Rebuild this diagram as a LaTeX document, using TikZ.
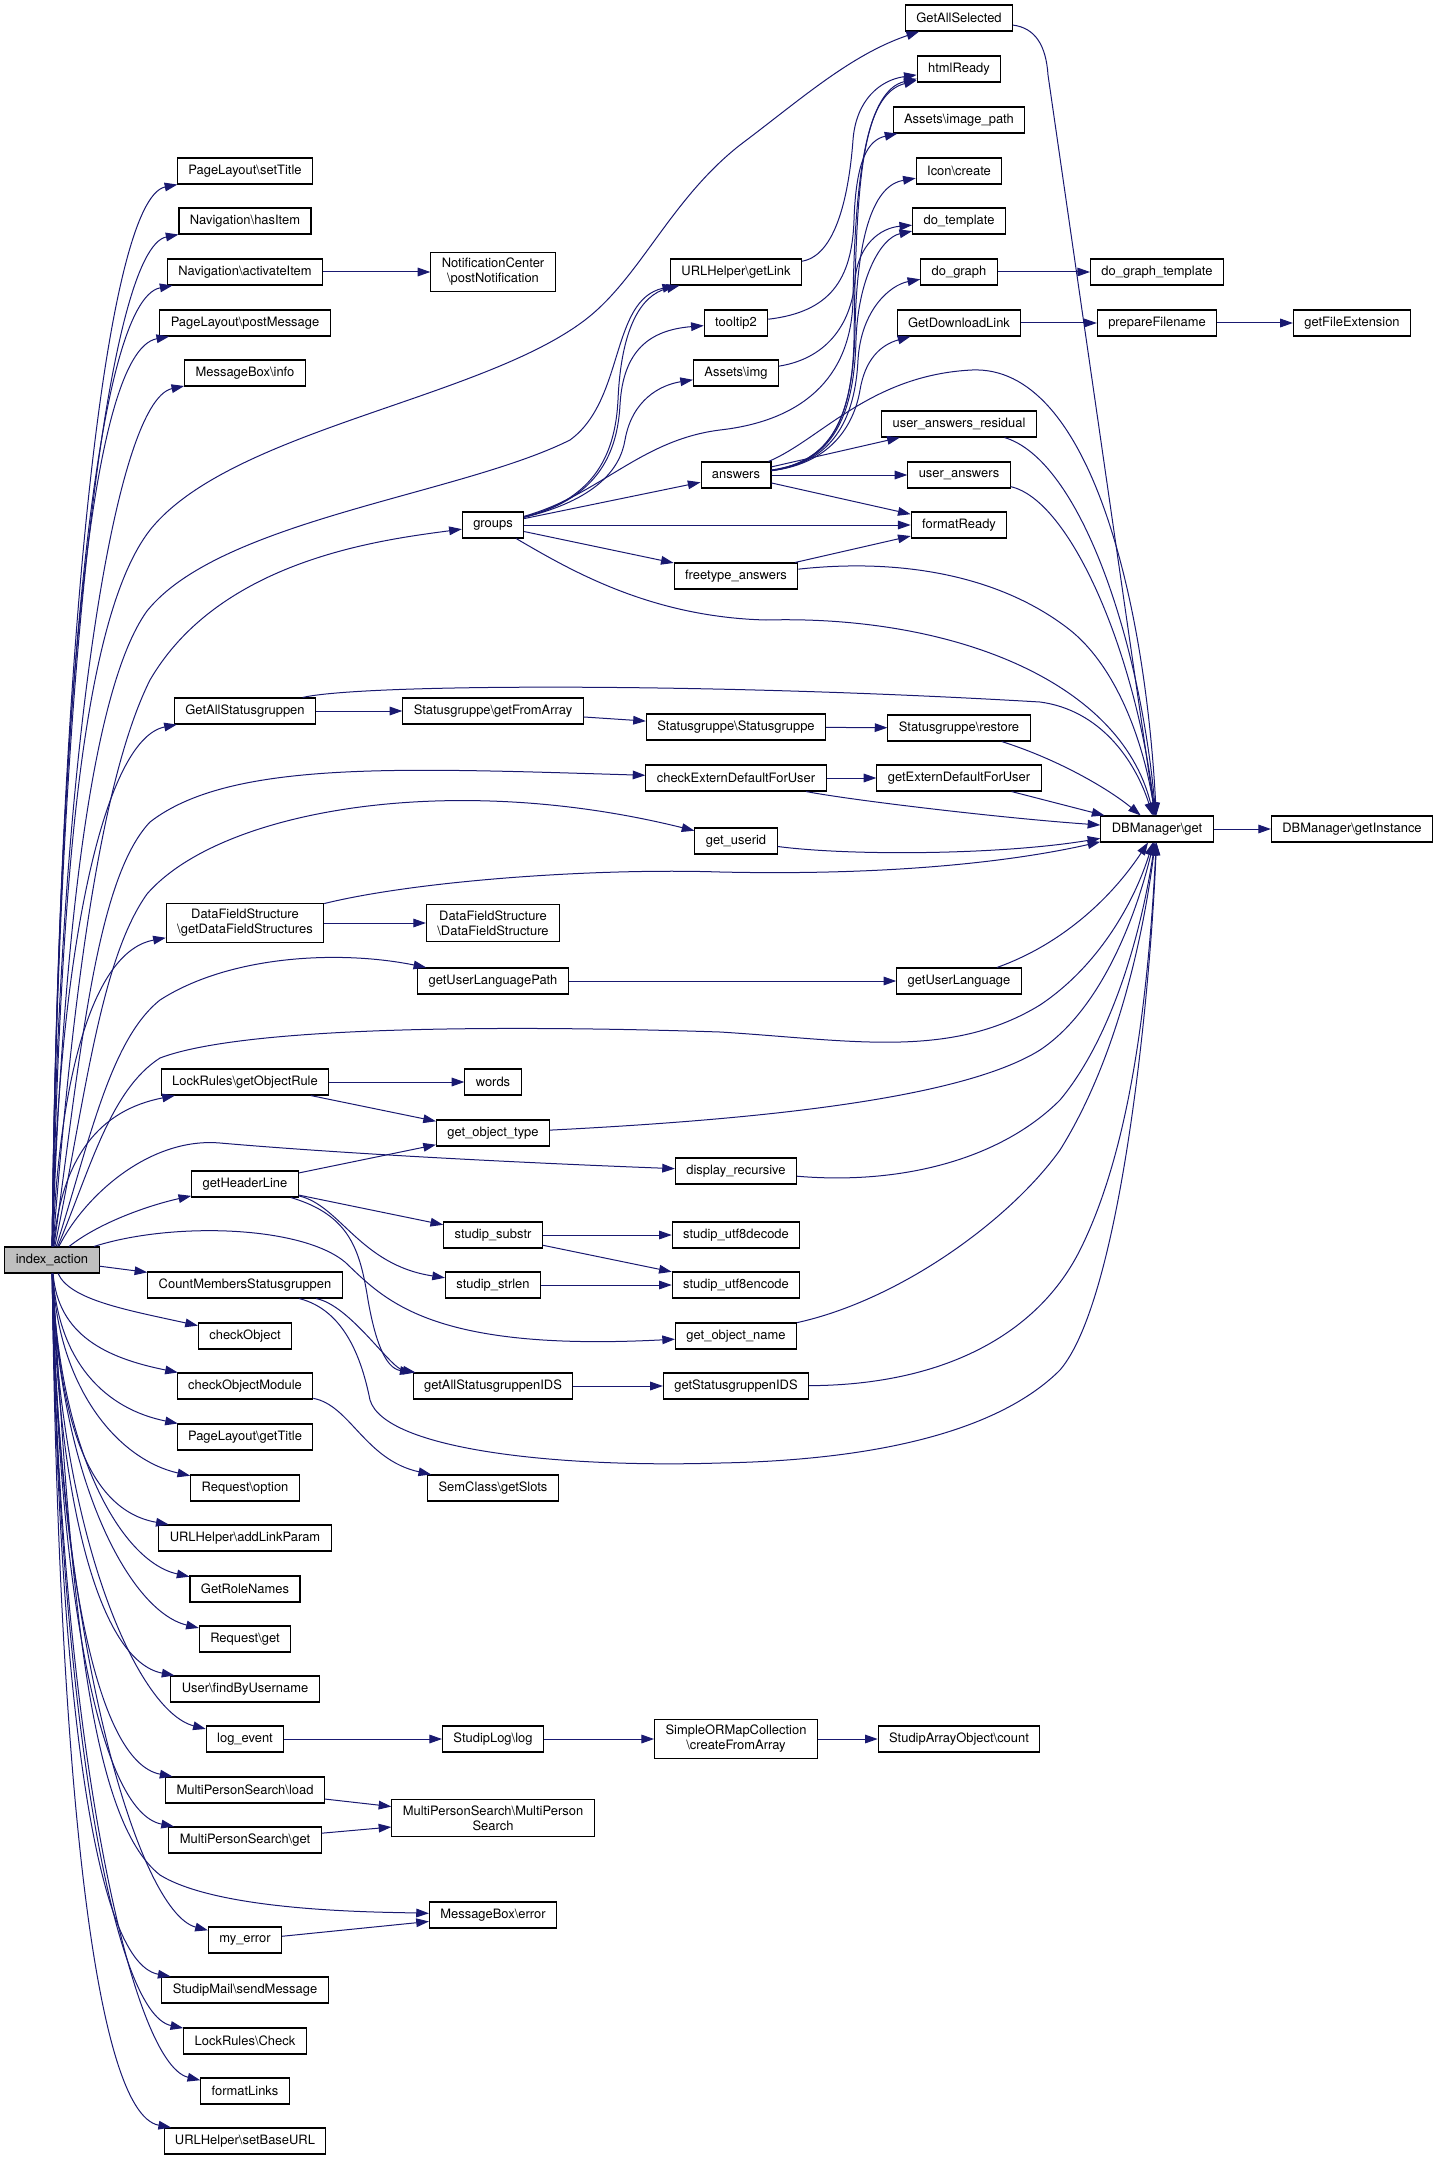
\documentclass[tikz,border=0pt]{standalone}
\usepackage{fontspec}
\setmainfont{TeX Gyre Heros}
\usepackage{tikz}
\usetikzlibrary{arrows.meta}

\definecolor{edgeblue}{HTML}{191970}
\definecolor{rootgray}{HTML}{BFBFBF}

\begin{document}
\begin{tikzpicture}[x=0.75pt,y=0.75pt,yscale=-1,xscale=1,
  fn/.style={draw=black, line width=0.8pt, fill=white, inner xsep=8.2pt, inner ysep=4.5pt,
    minimum height=19.5pt, align=center, font=\fontsize{9.7}{11.3}\selectfont},
  root/.style={fn, fill=rootgray},
  call/.style={draw=edgeblue, line width=0.75pt, -{Triangle[length=9.5pt,width=6.5pt]}}]
\useasboundingbox (0,0) rectangle (1439,2165);

% Root
\node[root] (index) at (52,1260) {index\_action};

% Column 2
\node[fn] (setTitle) at (245,171) {PageLayout\textbackslash setTitle};
\node[fn] (hasItem) at (245,221) {Navigation\textbackslash hasItem};
\node[fn] (activateItem) at (245,272) {Navigation\textbackslash activateItem};
\node[fn] (postMessage) at (245,323) {PageLayout\textbackslash postMessage};
\node[fn] (msgInfo) at (245,373) {MessageBox\textbackslash info};
\node[fn] (allStatus) at (245,711) {GetAllStatusgruppen};
\node[fn] (dfsGet) at (245,923) {DataFieldStructure\\\textbackslash getDataFieldStructures};
\node[fn] (lockRule) at (245,1082) {LockRules\textbackslash getObjectRule};
\node[fn] (headerLine) at (245,1184) {getHeaderLine};
\node[fn] (countMembers) at (245,1285) {CountMembersStatusgruppen};
\node[fn] (checkObject) at (245,1336) {checkObject};
\node[fn] (checkModule) at (245,1386) {checkObjectModule};
\node[fn] (getTitle) at (245,1437) {PageLayout\textbackslash getTitle};
\node[fn] (reqOption) at (245,1488) {Request\textbackslash option};
\node[fn] (addLinkParam) at (245,1538) {URLHelper\textbackslash addLinkParam};
\node[fn] (roleNames) at (245,1589) {GetRoleNames};
\node[fn] (reqGet) at (245,1639) {Request\textbackslash get};
\node[fn] (findUser) at (245,1689) {User\textbackslash findByUsername};
\node[fn] (logEvent) at (245,1739) {log\_event};
\node[fn] (mpsLoad) at (245,1790) {MultiPersonSearch\textbackslash load};
\node[fn] (mpsGet) at (245,1840) {MultiPersonSearch\textbackslash get};
\node[fn] (myError) at (245,1940) {my\_error};
\node[fn] (sendMessage) at (245,1990) {StudipMail\textbackslash sendMessage};
\node[fn] (lockCheck) at (245,2041) {LockRules\textbackslash Check};
\node[fn] (formatLinks) at (245,2091) {formatLinks};
\node[fn] (setBaseURL) at (245,2141) {URLHelper\textbackslash setBaseURL};

% Column 3
\node[fn] (postNotification) at (493,272) {NotificationCenter\\\textbackslash postNotification};
\node[fn] (groups) at (493,525) {groups};
\node[fn] (fromArray) at (493,711) {Statusgruppe\textbackslash getFromArray};
\node[fn] (dfsCtor) at (493,923) {DataFieldStructure\\\textbackslash DataFieldStructure};
\node[fn] (langPath) at (493,981) {getUserLanguagePath};
\node[fn] (words) at (493,1082) {words};
\node[fn] (objType) at (493,1133) {get\_object\_type};
\node[fn] (substr) at (493,1235) {studip\_substr};
\node[fn] (strlen) at (493,1285) {studip\_strlen};
\node[fn] (allIDS) at (493,1386) {getAllStatusgruppenIDS};
\node[fn] (getSlots) at (493,1488) {SemClass\textbackslash getSlots};
\node[fn] (studipLog) at (493,1739) {StudipLog\textbackslash log};
\node[fn] (mpsCtor) at (493,1818) {MultiPersonSearch\textbackslash MultiPerson\\Search};
\node[fn] (msgError) at (493,1915) {MessageBox\textbackslash error};

% Column 4
\node[fn] (getLink) at (736,272) {URLHelper\textbackslash getLink};
\node[fn] (tooltip) at (736,323) {tooltip2};
\node[fn] (assetsImg) at (736,373) {Assets\textbackslash img};
\node[fn] (answers) at (736,475) {answers};
\node[fn] (freetype) at (736,576) {freetype\_answers};
\node[fn] (sgCtor) at (736,727) {Statusgruppe\textbackslash Statusgruppe};
\node[fn] (checkExtern) at (736,778) {checkExternDefaultForUser};
\node[fn] (userid) at (736,841) {get\_userid};
\node[fn] (display) at (736,1171) {display\_recursive};
\node[fn] (utfDecode) at (736,1235) {studip\_utf8decode};
\node[fn] (utfEncode) at (736,1285) {studip\_utf8encode};
\node[fn] (objName) at (736,1336) {get\_object\_name};
\node[fn] (sgIDS) at (736,1386) {getStatusgruppenIDS};
\node[fn] (ormCreate) at (736,1739) {SimpleORMapCollection\\\textbackslash createFromArray};

% Column 5
\node[fn] (allSelected) at (959,18) {GetAllSelected};
\node[fn] (htmlReady) at (959,69) {htmlReady};
\node[fn] (imagePath) at (959,120) {Assets\textbackslash image\_path};
\node[fn] (iconCreate) at (959,171) {Icon\textbackslash create};
\node[fn] (doTemplate) at (959,221) {do\_template};
\node[fn] (doGraph) at (959,272) {do\_graph};
\node[fn] (downloadLink) at (959,323) {GetDownloadLink};
\node[fn] (residual) at (959,424) {user\_answers\_residual};
\node[fn] (userAnswers) at (959,475) {user\_answers};
\node[fn] (formatReady) at (959,525) {formatReady};
\node[fn] (restore) at (959,728) {Statusgruppe\textbackslash restore};
\node[fn] (externDefault) at (959,778) {getExternDefaultForUser};
\node[fn] (userLang) at (959,981) {getUserLanguage};
\node[fn] (arrayCount) at (959,1739) {StudipArrayObject\textbackslash count};

% Columns 6 and 7
\node[fn] (graphTemplate) at (1157,272) {do\_graph\_template};
\node[fn] (prepareFile) at (1157,323) {prepareFilename};
\node[fn] (dbGet) at (1157,829) {DBManager\textbackslash get};
\node[fn] (fileExt) at (1352,323) {getFileExtension};
\node[fn] (dbInstance) at (1352,829) {DBManager\textbackslash getInstance};

% index_action, fan upwards
\draw[call] (index) .. controls (58,655) and (105,199) .. (setTitle);
\draw[call] (index) .. controls (58,683) and (107,249) .. (hasItem);
\draw[call] (index) .. controls (58,711) and (95,300) .. (activateItem);
\draw[call] (index) .. controls (58,739) and (88,351) .. (postMessage);
\draw[call] (index) .. controls (58,766) and (114,401) .. (msgInfo);
\draw[call] (index) .. controls (58,952) and (104,739) .. (allStatus);
\draw[call] (index) .. controls (60,1069) and (95,951) .. (dfsGet);
\draw[call] (index) .. controls (62,1156) and (100,1110) .. (lockRule);
\draw[call] (index) .. controls (100,1222) and (150,1205) .. (headerLine);
\draw[call] (index) -- (countMembers);

% index_action, fan downwards
\draw[call] (index) .. controls (70,1300) and (127,1310) .. (checkObject);
\draw[call] (index) .. controls (58,1335) and (106,1358) .. (checkModule);
\draw[call] (index) .. controls (58,1363) and (106,1409) .. (getTitle);
\draw[call] (index) .. controls (58,1391) and (120,1460) .. (reqOption);
\draw[call] (index) .. controls (58,1418) and (87,1510) .. (addLinkParam);
\draw[call] (index) .. controls (58,1446) and (119,1561) .. (roleNames);
\draw[call] (index) .. controls (58,1474) and (128,1611) .. (reqGet);
\draw[call] (index) .. controls (58,1501) and (99,1661) .. (findUser);
\draw[call] (index) .. controls (58,1529) and (136,1711) .. (logEvent);
\draw[call] (index) .. controls (58,1557) and (95,1762) .. (mpsLoad);
\draw[call] (index) .. controls (58,1584) and (98,1812) .. (mpsGet);
\draw[call] (index) .. controls (58,1639) and (138,1912) .. (myError);
\draw[call] (index) .. controls (58,1667) and (91,1962) .. (sendMessage);
\draw[call] (index) .. controls (58,1695) and (111,2013) .. (lockCheck);
\draw[call] (index) .. controls (58,1722) and (129,2063) .. (formatLinks);
\draw[call] (index) .. controls (58,1750) and (92,2113) .. (setBaseURL);

% index_action, long edges
\draw[call] (index) .. controls (60,900) and (80,620) .. (150,530) .. controls (230,430) and (480,400) .. (585,320)
  .. controls (640,278) and (670,200) .. (740,145) .. controls (800,100) and (850,55) .. (allSelected);
\draw[call] (index) .. controls (62,950) and (90,690) .. (147,611) .. controls (220,520) and (460,495) .. (570,440)
  .. controls (625,400) and (610,300) .. (getLink);
\draw[call] (index) .. controls (72,1000) and (100,780) .. (150,680) .. controls (220,560) and (380,540) .. (groups);
\draw[call] (index) .. controls (80,1060) and (95,880) .. (150,822) .. controls (230,760) and (400,768) .. (checkExtern);
\draw[call] (index) .. controls (85,1100) and (100,960) .. (147,894) .. controls (220,810) and (450,770) .. (userid);
\draw[call] (index) .. controls (90,1140) and (110,1040) .. (160,1000) .. controls (230,955) and (340,950) .. (langPath);
\draw[call] (index) .. controls (90,1170) and (110,1090) .. (160,1058) .. controls (260,1020) and (600,1028) .. (720,1032)
  .. controls (850,1040) and (950,1060) .. (1040,1005) .. controls (1100,965) and (1135,900) .. (dbGet);
\draw[call] (index) .. controls (85,1195) and (150,1137) .. (220,1143) .. controls (300,1150) and (450,1160) .. (display);
\draw[call] (index) .. controls (170,1222) and (300,1225) .. (345,1262) .. controls (385,1300) and (430,1352) .. (objName);
\draw[call] (index) .. controls (70,1600) and (90,1820) .. (160,1875) .. controls (220,1912) and (380,1912) .. (msgError);

% groups
\draw[call] (groups) .. controls (590,500) and (615,460) .. (618,400) .. controls (621,330) and (640,295) .. (getLink);
\draw[call] (groups) .. controls (592,500) and (617,460) .. (620,405) .. controls (623,350) and (650,330) .. (tooltip);
\draw[call] (groups) .. controls (595,500) and (620,470) .. (625,440) .. controls (632,400) and (660,385) .. (assetsImg);
\draw[call] (groups) .. controls (600,495) and (640,440) .. (720,430) .. controls (800,421) and (851,380) .. (853,300)
  .. controls (855,170) and (868,90) .. (htmlReady);
\draw[call] (groups) -- (answers);
\draw[call] (groups) -- (formatReady);
\draw[call] (groups) -- (freetype);
\draw[call] (groups) .. controls (570,570) and (650,617) .. (766,620) .. controls (950,615) and (1120,680) .. (dbGet);

% answers
\draw[call] (answers) .. controls (830,462) and (852,420) .. (854,340) .. controls (856,180) and (862,95) .. (htmlReady);
\draw[call] (answers) .. controls (830,462) and (853,420) .. (855,330) .. controls (857,230) and (875,185) .. (iconCreate);
\draw[call] (answers) .. controls (830,463) and (854,420) .. (856,340) .. controls (858,280) and (880,238) .. (doTemplate);
\draw[call] (answers) .. controls (832,463) and (855,420) .. (858,360) .. controls (861,310) and (890,285) .. (doGraph);
\draw[call] (answers) .. controls (835,463) and (855,420) .. (860,390) .. controls (865,360) and (880,345) .. (downloadLink);
\draw[call] (answers) -- (residual);
\draw[call] (answers) -- (userAnswers);
\draw[call] (answers) -- (formatReady);
\draw[call] (answers) .. controls (820,440) and (870,375) .. (972,370) .. controls (1090,365) and (1145,600) .. (dbGet);

% helpers of groups
\draw[call] (getLink) .. controls (840,255) and (850,180) .. (853,140) .. controls (856,100) and (880,80) .. (htmlReady);
\draw[call] (tooltip) .. controls (830,312) and (852,280) .. (854,220) .. controls (856,160) and (868,140) .. (imagePath);
\draw[call] (assetsImg) .. controls (830,358) and (852,320) .. (855,280) .. controls (858,245) and (880,228) .. (doTemplate);
\draw[call] (freetype) -- (formatReady);
\draw[call] (freetype) .. controls (900,558) and (1000,575) .. (1070,630) .. controls (1120,670) and (1145,750) .. (dbGet);
\draw[call] (doGraph) -- (graphTemplate);
\draw[call] (downloadLink) -- (prepareFile);
\draw[call] (prepareFile) -- (fileExt);
\draw[call] (residual) .. controls (1080,460) and (1140,640) .. (dbGet);
\draw[call] (userAnswers) .. controls (1070,500) and (1135,650) .. (dbGet);
\draw[call] (allSelected) .. controls (1035,28) and (1046,45) .. (1048,75) -- (dbGet);
\draw[call] (activateItem) -- (postNotification);

% Statusgruppen and DBManager
\draw[call] (allStatus) -- (fromArray);
\draw[call] (fromArray) -- (sgCtor);
\draw[call] (sgCtor) -- (restore);
\draw[call] (restore) .. controls (1060,760) and (1110,790) .. (dbGet);
\draw[call] (allStatus) .. controls (360,684) and (700,682) .. (1040,702) .. controls (1100,710) and (1135,760) .. (dbGet);
\draw[call] (checkExtern) -- (externDefault);
\draw[call] (externDefault) -- (dbGet);
\draw[call] (checkExtern) .. controls (850,800) and (1000,818) .. (dbGet);
\draw[call] (userid) .. controls (850,856) and (1000,855) .. (dbGet);
\draw[call] (dfsGet) -- (dfsCtor);
\draw[call] (dfsGet) .. controls (420,880) and (600,868) .. (720,872) .. controls (900,876) and (1020,860) .. (dbGet);
\draw[call] (langPath) -- (userLang);
\draw[call] (userLang) .. controls (1060,945) and (1110,900) .. (dbGet);
\draw[call] (dbGet) -- (dbInstance);

% object rules and header line
\draw[call] (lockRule) -- (words);
\draw[call] (lockRule) -- (objType);
\draw[call] (objType) .. controls (750,1120) and (960,1100) .. (1040,1050) .. controls (1100,1010) and (1135,920) .. (dbGet);
\draw[call] (display) .. controls (900,1185) and (1000,1160) .. (1060,1100) .. controls (1110,1040) and (1140,940) .. (dbGet);
\draw[call] (headerLine) -- (objType);
\draw[call] (headerLine) -- (substr);
\draw[call] (headerLine) .. controls (340,1205) and (360,1265) .. (strlen);
\draw[call] (headerLine) .. controls (350,1215) and (360,1250) .. (368,1300) .. controls (375,1340) and (385,1368) .. (allIDS);
\draw[call] (substr) -- (utfDecode);
\draw[call] (substr) -- (utfEncode);
\draw[call] (strlen) -- (utfEncode);
\draw[call] (objName) .. controls (900,1300) and (1010,1220) .. (1060,1150) .. controls (1110,1070) and (1140,960) .. (dbGet);
\draw[call] (countMembers) .. controls (350,1305) and (390,1368) .. (allIDS);
\draw[call] (countMembers) .. controls (345,1310) and (362,1360) .. (370,1400) .. controls (385,1450) and (560,1468) .. (720,1463)
  .. controls (880,1460) and (1000,1430) .. (1060,1370) .. controls (1120,1300) and (1150,1000) .. (dbGet);
\draw[call] (allIDS) -- (sgIDS);
\draw[call] (sgIDS) .. controls (950,1385) and (1040,1330) .. (1080,1250) .. controls (1130,1150) and (1148,1000) .. (dbGet);
\draw[call] (checkModule) .. controls (350,1405) and (365,1460) .. (getSlots);

% lower part
\draw[call] (logEvent) -- (studipLog);
\draw[call] (studipLog) -- (ormCreate);
\draw[call] (ormCreate) -- (arrayCount);
\draw[call] (mpsLoad) -- (mpsCtor);
\draw[call] (mpsGet) -- (mpsCtor);
\draw[call] (myError) -- (msgError);

\end{tikzpicture}
\end{document}
